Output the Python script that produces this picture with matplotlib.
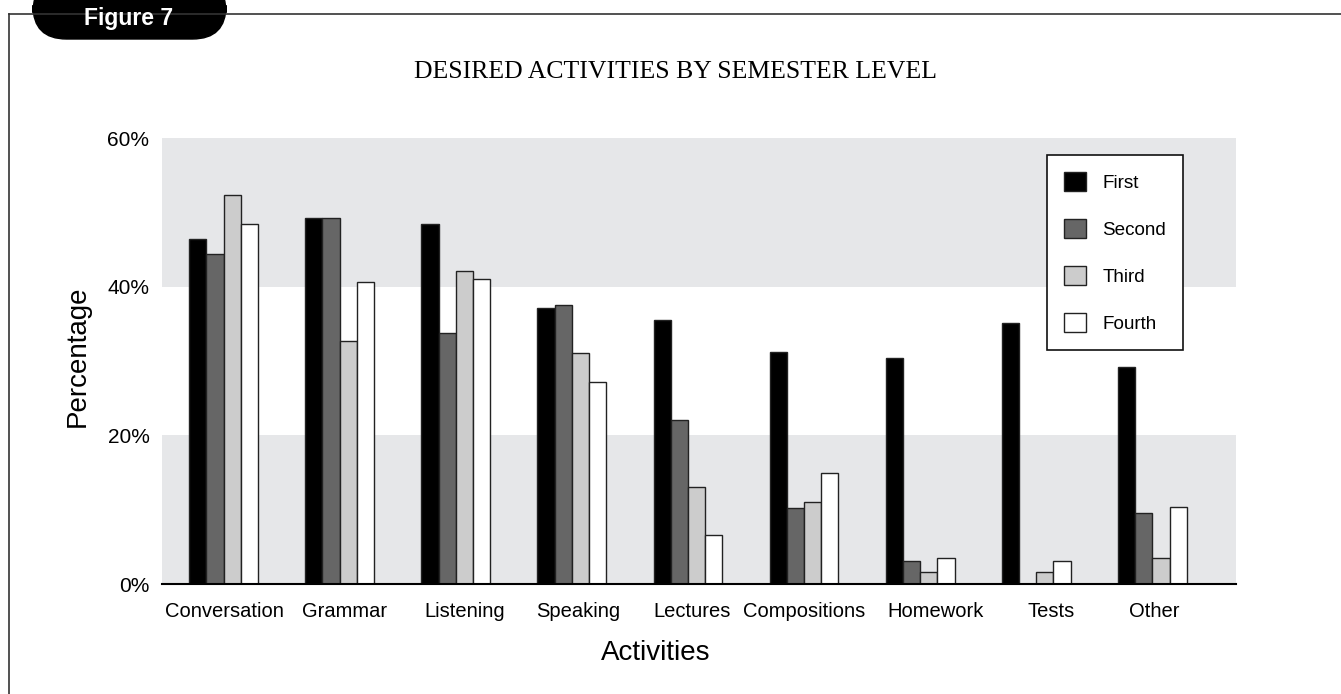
import matplotlib
matplotlib.use("Agg")
import matplotlib.pyplot as plt
import numpy as np
from matplotlib.patches import FancyBboxPatch
from matplotlib.lines import Line2D
from matplotlib.transforms import ScaledTranslation

categories = ["Conversation", "Grammar", "Listening", "Speaking", "Lectures",
              "Compositions", "Homework", "Tests", "Other"]
series_names = ["First", "Second", "Third", "Fourth"]
first = [46.5, 49.3, 48.5, 37.1, 35.5, 31.2, 30.4, 35.2, 29.2]
second = [44.4, 49.3, 33.8, 37.5, 22.1, 10.2, 3.1, 0.0, 9.5]
third = [52.3, 32.7, 42.2, 31.1, 13.0, 11.0, 1.6, 1.6, 3.5]
fourth = [48.4, 40.6, 41.0, 27.2, 6.6, 15.0, 3.5, 3.1, 10.3]
yticks = [0, 20, 40, 60]
ytick_labels = ["0%", "20%", "40%", "60%"]

FONT = "Liberation Sans"
colors = ["#000000", "#666666", "#cccccc", "#ffffff"]
W, H = 1341, 694
fig = plt.figure(figsize=(W / 100, H / 100), dpi=100)
ax = fig.add_axes([162 / W, (H - 584) / H, (1236 - 162) / W, (584 - 138.3) / H])

x = np.arange(len(categories))
bw = 0.148
data = [first, second, third, fourth]
for i, (vals, c, nm) in enumerate(zip(data, colors, series_names)):
    ax.bar(x + (i - 1.5) * bw, vals, width=bw, color=c, edgecolor="#222222",
           linewidth=1.0, label=nm, zorder=3)

ax.axhspan(0, 20, color="#e6e7e9", zorder=0, lw=0)
ax.axhspan(40, 60, color="#e6e7e9", zorder=0, lw=0)
ax.set_xlim(-0.53, 8.72)
ax.set_ylim(0, 60)
for s in ["top", "right", "left"]:
    ax.spines[s].set_visible(False)
ax.spines["bottom"].set_linewidth(1.5)
ax.spines["bottom"].set_zorder(4)
ax.set_yticks(yticks)
ax.set_yticklabels(ytick_labels, fontfamily=FONT, fontsize=15)
ax.set_xticks(x)
ax.set_xticklabels(categories, fontfamily=FONT, fontsize=14.5)
ax.tick_params(axis="both", length=0)
ax.tick_params(axis="y", pad=9)
ax.tick_params(axis="x", pad=13)
# small horizontal shifts of some category labels, as in the original layout
label_shift_px = [1, 5, 9, 6, 4, 0, 15, 15, 2]
for lab, dx in zip(ax.get_xticklabels(), label_shift_px):
    lab.set_transform(lab.get_transform() + ScaledTranslation(dx / 100, 0, fig.dpi_scale_trans))

ax.set_xlabel("Activities", fontfamily=FONT, fontsize=20, labelpad=14)
ax.xaxis.set_label_coords((656 - 162) / (1236 - 162), -0.125)
ax.set_ylabel("Percentage", fontfamily=FONT, fontsize=20, labelpad=10)
ax.yaxis.set_label_coords(-0.066, (584 - 356) / (584 - 138.3))

leg = ax.legend(loc="upper left", bbox_to_anchor=((1047 - 162) / (1236 - 162), (584 - 155) / (584 - 138.3)),
                frameon=True, fancybox=False, edgecolor="#111111",
                prop={"family": FONT, "size": 13.6}, handlelength=1.16, handleheight=1.16,
                labelspacing=1.43, borderpad=0.92, handletextpad=0.85, borderaxespad=0)
leg.get_frame().set_linewidth(1.2)
leg.get_frame().set_alpha(1)
leg.set_zorder(5)

fig.text(675 / W, 1 - 72 / H, "DESIRED ACTIVITIES BY SEMESTER LEVEL", ha="center", va="center",
         fontfamily="Liberation Serif", fontsize=18.5)

# frame lines
fig.add_artist(Line2D([9 / W, 1], [1 - 14 / H, 1 - 14 / H], color="#333333", lw=1.2))
fig.add_artist(Line2D([9 / W, 9 / W], [0, 1 - 14 / H], color="#333333", lw=1.2))
tab = FancyBboxPatch((33 / W, 1 - 39 / H), (226 - 33) / W, 60 / H,
                     boxstyle="round,pad=0,rounding_size=0.025", transform=fig.transFigure,
                     facecolor="black", edgecolor="black", mutation_aspect=W / H)
fig.add_artist(tab)
fig.text(129 / W, 1 - 19 / H, "Figure 7", ha="center", va="center", color="white",
         fontfamily=FONT, fontweight="bold", fontsize=16.5)

fig.savefig("out.png", dpi=100)
